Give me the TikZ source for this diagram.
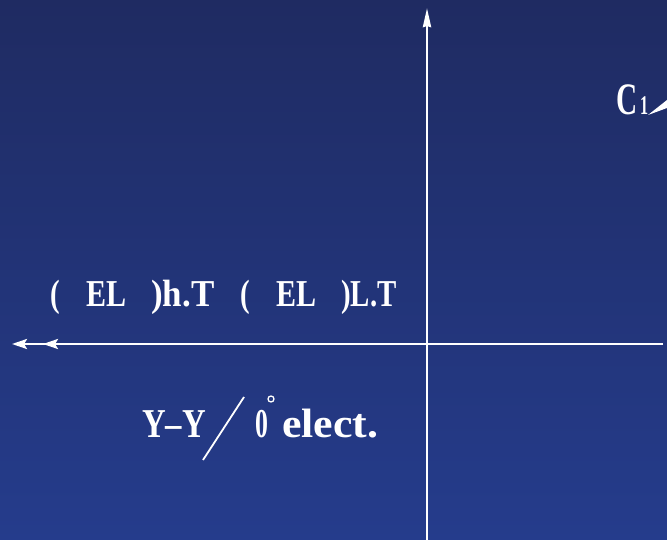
\documentclass[tikz,border=0pt]{standalone}
\usepackage{fontspec}
\setmainfont{Liberation Serif}
\usetikzlibrary{arrows.meta}
\definecolor{bgtop}{RGB}{31,43,98}
\definecolor{bgbot}{RGB}{37,60,140}
\newcommand{\sx}[2]{\scalebox{#1}[1]{#2}}
\tikzset{
  axis/.style={draw=white, line width=2.6pt},
  tip/.style={-{Stealth[length=15pt,width=10pt,inset=3pt]}},
  vtip/.style={-{Stealth[length=19pt,width=8pt,inset=1pt]}},
  lab/.style={text=white, anchor=base west, inner sep=0pt, font=\bfseries\fontsize{38}{38}\selectfont},
  labb/.style={lab, font=\bfseries\fontsize{41}{41}\selectfont},
}
\begin{document}
\begin{tikzpicture}[x=1pt,y=-1pt]
\shade[top color=bgtop, bottom color=bgbot] (0,0) rectangle (667,540);
\useasboundingbox (0,0) rectangle (667,540);
% axes
\coordinate (hR) at (663,344);
\coordinate (hL) at (12,344);
\coordinate (hM) at (43,344);
\coordinate (vB) at (427,540);
\coordinate (vT) at (427,8);
\draw[axis, tip] (hR) -- (hL);
\draw[axis, tip] (hR) -- (hM);
\draw[axis, vtip] (vB) -- (vT);
% labels upper left
\node[lab] (p1) at (50,306) {\sx{0.76}{(}};
\node[lab] (e1) at (86,306) {\sx{0.79}{EL}};
\node[lab] (h1) at (151,306) {\sx{0.92}{)h.T}};
\node[lab] (p2) at (240,306) {\sx{0.76}{(}};
\node[lab] (e2) at (276,306) {\sx{0.79}{EL}};
\node[lab] (l2) at (341,306) {\sx{0.76}{)L.T}};
% lower label
\node[labb] (yy) at (142,437) {\sx{0.8}{Y–Y}};
\coordinate (s1) at (203,460);
\coordinate (s2) at (244,397);
\draw[white, line width=1.8pt] (s1) -- (s2);
\node[labb] (zero) at (255,437) {\sx{0.63}{0}};
\node[draw=white, line width=1.3pt, circle, minimum size=6pt, inner sep=0pt] (deg) at (271,399) {};
\node[labb] (el) at (282,437) {\sx{1.07}{elect.}};
% C1
\node[lab, font=\bfseries\fontsize{45}{45}\selectfont] (c) at (616,115) {\sx{0.65}{C}};
\node[lab, font=\bfseries\fontsize{27}{27}\selectfont] (one) at (640,115) {\sx{0.6}{1}};
\coordinate (w1) at (648,115);
\coordinate (w2) at (667,100);
\coordinate (w3) at (667,108);
\fill[white] (w1) -- (w2) -- (w3) -- cycle;
\end{tikzpicture}
\end{document}
